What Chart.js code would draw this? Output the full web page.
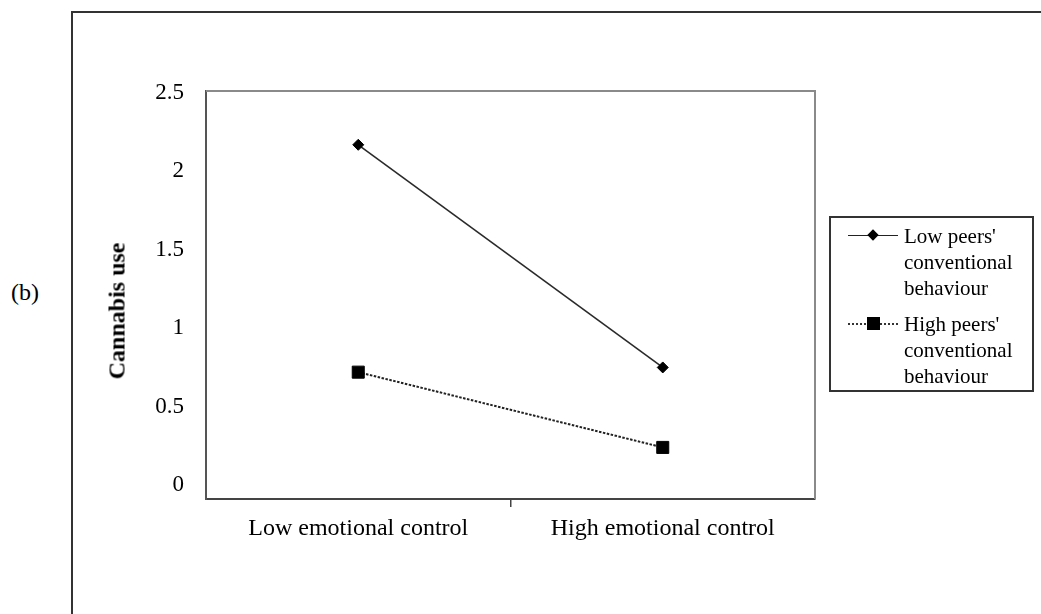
<!DOCTYPE html>
<html lang="en">
<head>
  <meta charset="UTF-8" />
  <title>Cannabis use by emotional control</title>
  <style>
    body {
      margin: 0;
      background: #fff;
      font-family: "Liberation Serif", serif;
      color: #000;
    }
    #wrap {
      position: relative;
      width: 1041px;
      height: 614px;
      overflow: hidden;
    }
    #frame {
      position: absolute;
      left: 71px;
      top: 11px;
      width: 1000px;
      height: 700px;
      border-top: 2px solid #333;
      border-left: 2px solid #333;
    }
    #panel {
      position: absolute;
      left: 11px;
      top: 279px;
      font-size: 24px;
    }
    #ytitle {
      position: absolute;
      left: 117px;
      top: 311px;
      transform: translate(-50%, -50%) rotate(-90deg);
      font-weight: bold;
      font-size: 24px;
      white-space: nowrap;
    }
    canvas {
      position: absolute;
      left: 0;
      top: 0;
    }
    #legend {
      position: absolute;
      left: 829px;
      top: 216px;
      width: 205px;
      height: 176px;
      box-sizing: border-box;
      border: 2px solid #333;
      padding-top: 5px;
      font-size: 21px;
      line-height: 26px;
    }
    .item {
      display: flex;
      margin-bottom: 10px;
    }
    .mark {
      position: relative;
      width: 50px;
      height: 26px;
      margin-left: 17px;
      margin-right: 6px;
      flex: none;
    }
    .mark .ln {
      position: absolute;
      left: 0;
      right: 0;
      top: 12px;
    }
    .mark .pt {
      position: absolute;
      background: #000;
    }
    .txt {
      width: 120px;
    }
  </style>
</head>
<body>
  <div id="wrap">
    <div id="frame"></div>
    <div id="panel">(b)</div>
    <canvas id="chart" width="1041" height="614"></canvas>
    <div id="ytitle">Cannabis use</div>
    <div id="legend"></div>
  </div>

  <script src="https://cdn.jsdelivr.net/npm/chart.js"></script>
  <script>
    const categories = ['Low emotional control', 'High emotional control'];
    const lowPeers = [2.17, 0.75];
    const highPeers = [0.72, 0.24];
    const seriesNames = ["Low peers' conventional behaviour", "High peers' conventional behaviour"];
    const yTicks = [0, 0.5, 1, 1.5, 2, 2.5];

    const serif = 'Liberation Serif';

    // grey top and right edge of the plot area
    const plotFrame = {
      id: 'plotFrame',
      beforeDatasetsDraw(chart) {
        const { ctx, chartArea: a } = chart;
        ctx.save();
        ctx.strokeStyle = '#8a8a8a';
        ctx.lineWidth = 2;
        ctx.beginPath();
        ctx.moveTo(a.left, a.top);
        ctx.lineTo(a.right, a.top);
        ctx.lineTo(a.right, a.bottom);
        ctx.stroke();
        ctx.restore();
      }
    };

    const chart = new Chart(document.getElementById('chart'), {
      type: 'line',
      data: {
        labels: categories,
        datasets: [
          {
            label: seriesNames[0],
            data: lowPeers,
            borderColor: '#2a2a2a',
            borderWidth: 1.6,
            pointStyle: 'rectRot',
            pointRadius: 5.5,
            pointBackgroundColor: '#000',
            pointBorderColor: '#000',
            pointBorderWidth: 1
          },
          {
            label: seriesNames[1],
            data: highPeers,
            borderColor: '#222',
            borderWidth: 2,
            borderDash: [2.5, 1.5],
            pointStyle: 'rect',
            pointRadius: 8.5,
            pointBackgroundColor: '#000',
            pointBorderColor: '#000',
            pointBorderWidth: 1
          }
        ]
      },
      options: {
        responsive: false,
        animation: false,
        layout: {
          autoPadding: false,
          padding: { top: 91, right: 226, left: 0, bottom: 0 }
        },
        plugins: {
          legend: { display: false },
          tooltip: { enabled: false }
        },
        scales: {
          x: {
            offset: true,
            afterFit(scale) { scale.height = 115; },
            border: { color: '#444', width: 2 },
            grid: {
              offset: true,
              drawOnChartArea: false,
              tickLength: 8,
              lineWidth: 1.5,
              color: ctx => ctx.index === 1 ? '#444' : 'rgba(0,0,0,0)'
            },
            ticks: {
              padding: 7,
              maxRotation: 0,
              autoSkip: false,
              color: '#000',
              font: { family: serif, size: 24 }
            }
          },
          y: {
            min: -0.089,
            max: 2.513,
            afterFit(scale) { scale.width = 206; },
            afterBuildTicks(scale) { scale.ticks = yTicks.map(v => ({ value: v })); },
            border: { color: '#555', width: 2 },
            grid: { display: false, drawTicks: false },
            ticks: {
              padding: 22,
              color: '#000',
              font: { family: serif, size: 23 },
              callback: v => String(v)
            }
          }
        }
      },
      plugins: [plotFrame]
    });

    // legend box built from the datasets
    const legend = document.getElementById('legend');
    chart.data.datasets.forEach(ds => {
      const item = document.createElement('div');
      item.className = 'item';
      const mark = document.createElement('div');
      mark.className = 'mark';
      const ln = document.createElement('div');
      ln.className = 'ln';
      ln.style.borderTop = ds.borderDash ? '2px dotted #333' : '1.5px solid #222';
      mark.appendChild(ln);
      const pt = document.createElement('div');
      pt.className = 'pt';
      if (ds.pointStyle === 'rectRot') {
        pt.style.cssText = 'left:21px;top:8px;width:8px;height:8px;transform:rotate(45deg);';
      } else {
        pt.style.cssText = 'left:19px;top:6px;width:13px;height:13px;';
      }
      mark.appendChild(pt);
      const txt = document.createElement('div');
      txt.className = 'txt';
      txt.textContent = ds.label;
      item.appendChild(mark);
      item.appendChild(txt);
      legend.appendChild(item);
    });
  </script>
</body>
</html>
